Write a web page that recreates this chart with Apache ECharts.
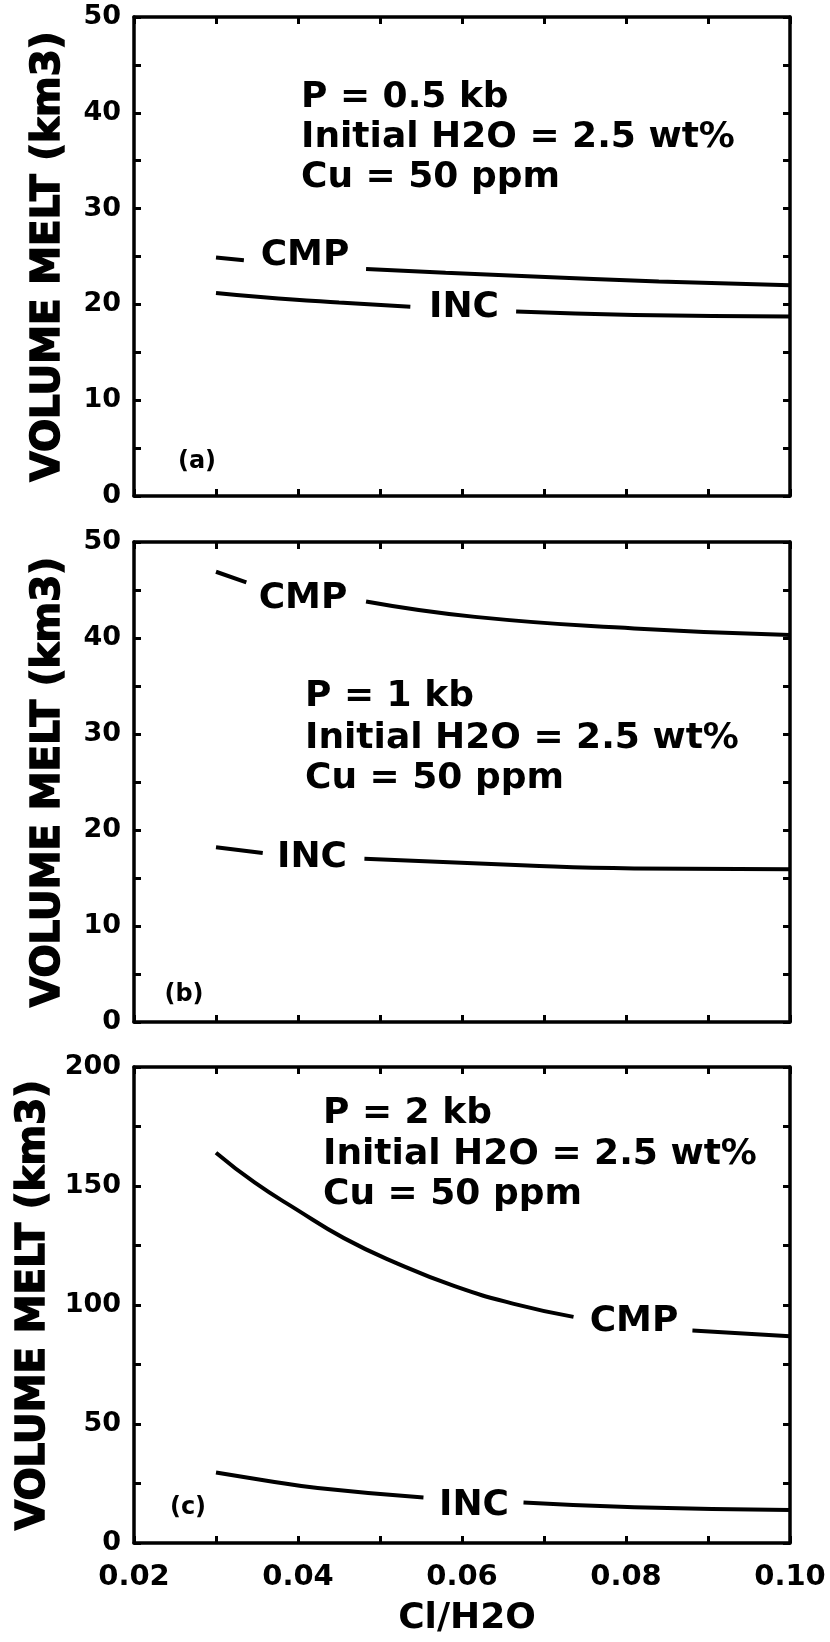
<!DOCTYPE html>
<html>
<head>
<meta charset="utf-8">
<script src="https://cdn.jsdelivr.net/npm/echarts@6/dist/echarts.min.js"></script>
<style>
  html, body { margin: 0; padding: 0; background: #fff; }
  #chart { width: 830px; height: 1642px; }
</style>
</head>
<body>
<div id="chart"></div>
<script>
// Volume of melt vs Cl/H2O for three pressures; '-' breaks a curve where its label sits
const aCmpX = [0.030, 0.0334, 0.040, 0.0483, 0.058, 0.068, 0.084, 0.100];
const aCmpY = [24.9, 24.6, '-', 23.7, 23.3, 22.95, 22.4, 22.0];
const aIncX = [0.030, 0.0358, 0.045, 0.0537, 0.060, 0.0666, 0.081, 0.100];
const aIncY = [21.2, 20.75, 20.2, 19.75, '-', 19.25, 18.9, 18.75];

const bCmpX = [0.030, 0.0337, 0.040, 0.0483, 0.0616, 0.081, 0.100];
const bCmpY = [46.9, 45.8, '-', 43.8, 42.2, 41.0, 40.3];
const bIncX = [0.030, 0.0357, 0.042, 0.0481, 0.068, 0.081, 0.100];
const bIncY = [18.2, 17.6, '-', 17.0, 16.3, 16.0, 15.9];

const cCmpX = [0.030, 0.0347, 0.0398, 0.0456, 0.052, 0.0591, 0.0662, 0.0736, 0.080, 0.0881, 0.100];
const cCmpY = [164.0, 151.5, 140.2, 128.1, 117.6, 107.9, 100.6, 95.0, '-', 89.3, 86.9];
const cIncX = [0.030, 0.036, 0.0424, 0.0553, 0.060, 0.0675, 0.081, 0.100];
const cIncY = [29.6, 26.3, 23.1, 19.1, '-', 17.0, 15.0, 13.9];

const yMaxes = [50, 50, 200];
const yIntervals = [5, 5, 25];
const panelLetters = ['(a)', '(b)', '(c)'];
const notes = [
  ['P = 0.5 kb', 'Initial H2O = 2.5 wt%', 'Cu = 50 ppm'],
  ['P = 1 kb', 'Initial H2O = 2.5 wt%', 'Cu = 50 ppm'],
  ['P = 2 kb', 'Initial H2O = 2.5 wt%', 'Cu = 50 ppm']
];

const FONT = '"DejaVu Sans", sans-serif';
const grids = [
  { left: 134, top: 17, width: 656, height: 479 },
  { left: 134, top: 542, width: 656, height: 480 },
  { left: 134, top: 1067, width: 656, height: 476 }
];

function pairs(xs, ys) { return xs.map((x, i) => [x, ys[i]]); }

const tickStyle = { show: true, inside: true, length: 7, lineStyle: { color: '#000', width: 3 } };
const lineStyleAxis = { show: true, onZero: false, lineStyle: { color: '#000', width: 3.5 } };

const xAxes = [], yAxes = [], series = [], graphics = [];

grids.forEach((g, i) => {
  const last = i === 2;
  // bottom x axis
  xAxes.push({
    type: 'value', gridIndex: i, min: 0.02, max: 0.10, interval: 0.01, position: 'bottom',
    axisLine: lineStyleAxis, axisTick: tickStyle, splitLine: { show: false },
    axisLabel: {
      show: last, margin: 20, color: '#000', fontFamily: FONT, fontWeight: 'bold', fontSize: 29,
      formatter: v => (Math.round(v * 100) % 2 === 0 ? v.toFixed(2) : '')
    },
    name: last ? 'Cl/H2O' : '', nameLocation: 'middle', nameGap: 58,
    nameTextStyle: { color: '#000', fontFamily: FONT, fontWeight: 'bold', fontSize: 36, padding: [0, 0, 0, 10] }
  });
  // top mirror axis carrying the upper ticks
  xAxes.push({
    type: 'value', gridIndex: i, min: 0.02, max: 0.10, interval: 0.01, position: 'top',
    axisLine: lineStyleAxis, axisTick: tickStyle, axisLabel: { show: false }, splitLine: { show: false }
  });
  yAxes.push({
    type: 'value', gridIndex: i, min: 0, max: yMaxes[i], interval: yIntervals[i], position: 'left',
    axisLine: lineStyleAxis, axisTick: tickStyle, splitLine: { show: false },
    axisLabel: {
      margin: 13, color: '#000', fontFamily: FONT, fontWeight: 'bold', fontSize: 27, padding: [10, 0, 0, 0],
      formatter: v => (Math.round(v / yIntervals[i]) % 2 === 0 ? String(v) : '')
    },
    name: 'VOLUME MELT (km3)', nameLocation: 'middle', nameGap: 66,
    nameTextStyle: {
      color: '#000', fontFamily: FONT, fontWeight: 'bold', fontSize: 39,
      textBorderColor: '#000', textBorderWidth: 1.5
    }
  });
  yAxes.push({
    type: 'value', gridIndex: i, min: 0, max: yMaxes[i], interval: yIntervals[i], position: 'right',
    axisLine: lineStyleAxis, axisTick: tickStyle, axisLabel: { show: false }, splitLine: { show: false }
  });
});

const curveSets = [
  [pairs(aCmpX, aCmpY), pairs(aIncX, aIncY)],
  [pairs(bCmpX, bCmpY), pairs(bIncX, bIncY)],
  [pairs(cCmpX, cCmpY), pairs(cIncX, cIncY)]
];
curveSets.forEach((set, i) => {
  ['CMP', 'INC'].forEach((nm, k) => {
    series.push({
      name: nm, type: 'line', xAxisIndex: i * 2, yAxisIndex: i * 2,
      data: set[k], showSymbol: false, symbol: 'none', smooth: 0.5, connectNulls: false,
      lineStyle: { color: '#000', width: 4 }, silent: true, animation: false
    });
  });
});

// curve labels sitting in the gaps of each curve
const curveLabels = [
  ['CMP', 305, 256], ['INC', 464, 308],
  ['CMP', 303, 599], ['INC', 312, 858],
  ['CMP', 634, 1322], ['INC', 474, 1506]
];
curveLabels.forEach(([t, x, y]) => graphics.push({
  type: 'text', x, y, silent: true,
  style: { text: t, font: 'bold 36px ' + FONT, fill: '#000', align: 'center', verticalAlign: 'middle' }
}));

// condition notes
const noteAnchors = [[301, [98, 138, 178]], [305, [697, 739, 779]], [323, [1114, 1155, 1195]]];
noteAnchors.forEach(([x, ys], i) => ys.forEach((y, j) => graphics.push({
  type: 'text', x, y, silent: true,
  style: { text: notes[i][j], font: 'bold 36px ' + FONT, fill: '#000', align: 'left', verticalAlign: 'middle' }
})));

// panel letters
[[197, 462], [184, 995], [188, 1508]].forEach(([x, y], i) => graphics.push({
  type: 'text', x, y, silent: true,
  style: { text: panelLetters[i], font: 'bold 24px ' + FONT, fill: '#000', align: 'center', verticalAlign: 'middle' }
}));

const chart = echarts.init(document.getElementById('chart'), null, { renderer: 'canvas' });
chart.setOption({
  backgroundColor: '#fff',
  animation: false,
  grid: grids.map(g => Object.assign({ containLabel: false }, g)),
  xAxis: xAxes,
  yAxis: yAxes,
  series,
  graphic: graphics
});
</script>
</body>
</html>
